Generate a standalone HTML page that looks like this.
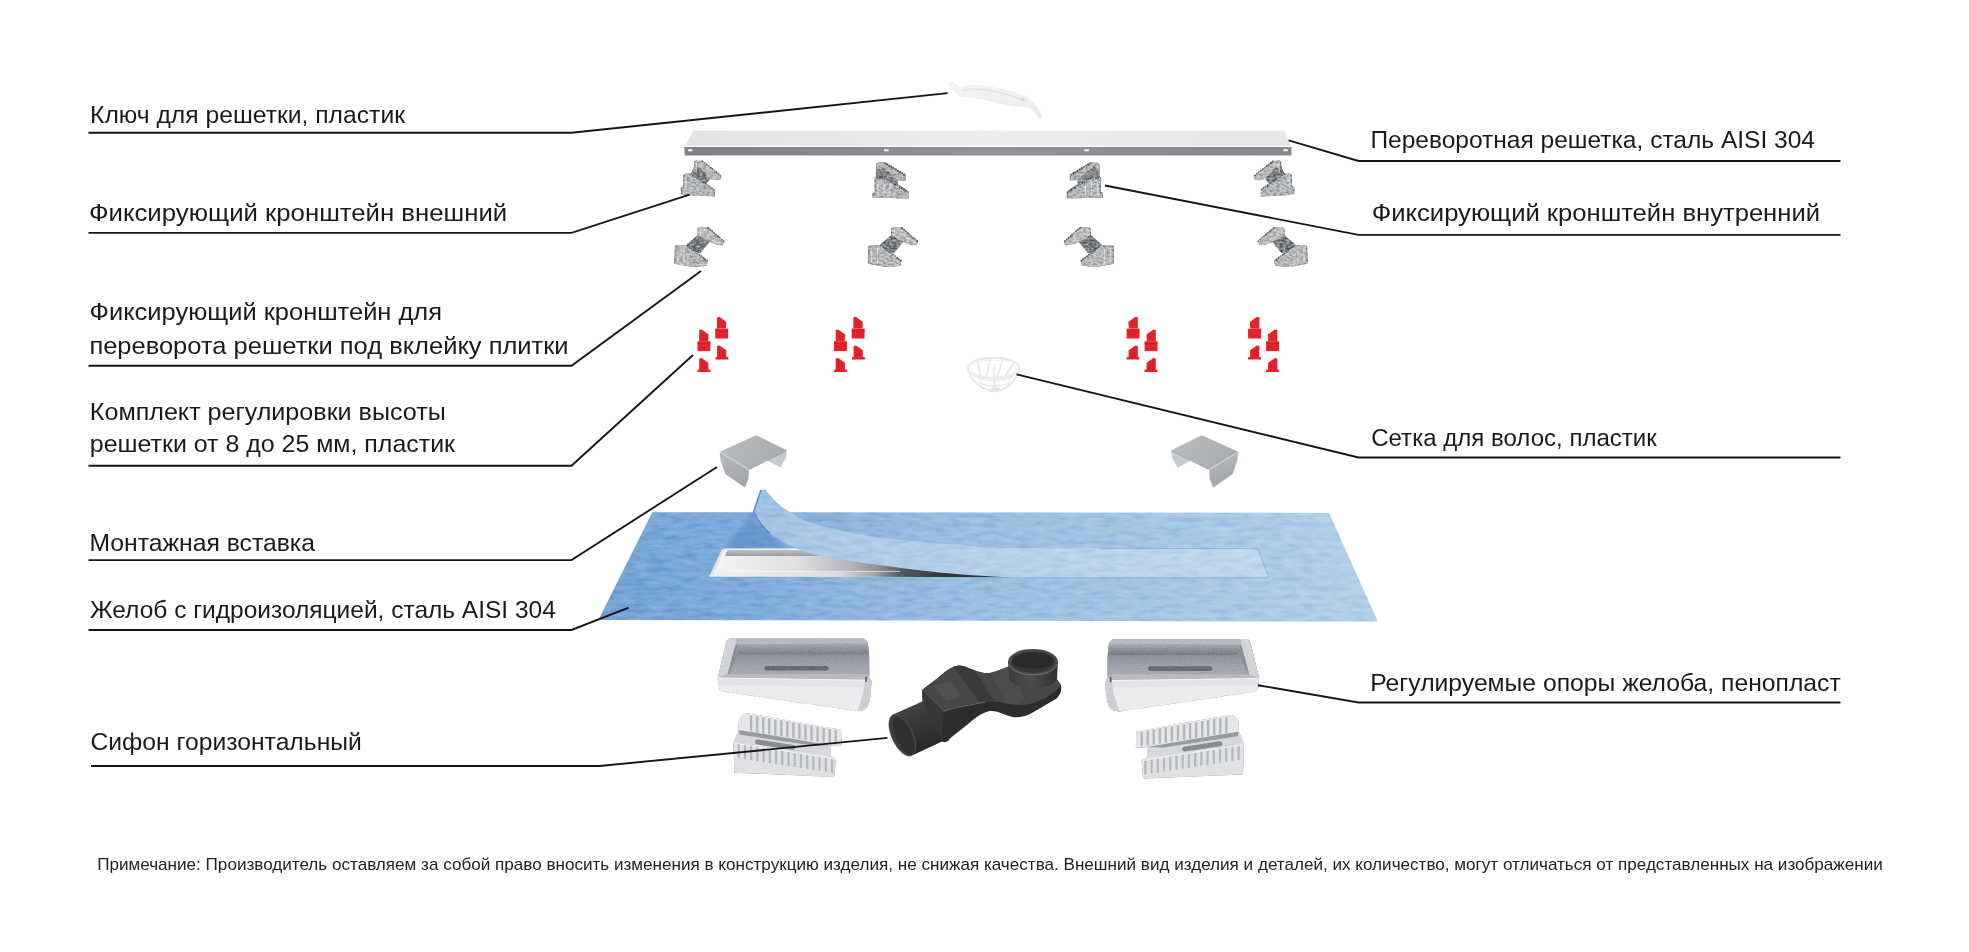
<!DOCTYPE html>
<html lang="ru"><head><meta charset="utf-8"><title>Схема</title>
<style>html,body{margin:0;padding:0;background:#fff;}body{width:1969px;height:952px;overflow:hidden;font-family:"Liberation Sans",sans-serif;}svg{display:block;will-change:transform;}text{font-family:"Liberation Sans",sans-serif;fill:#1a1a1a;}.lbl{font-size:24.4px;}.note{font-size:16.4px;fill:#222;}.ln{fill:none;stroke:#161616;stroke-width:1.9;stroke-linejoin:miter;stroke-linecap:butt;}</style></head><body>
<svg width="1969" height="952" viewBox="0 0 1969 952">
<defs>
<linearGradient id="gMetal" x1="0" y1="0" x2="1" y2="1"><stop offset="0" stop-color="#c4c6c8"/><stop offset="0.5" stop-color="#a3a6a9"/><stop offset="1" stop-color="#b5b8ba"/></linearGradient>
<linearGradient id="gGrateTop" x1="0" y1="0" x2="1" y2="0"><stop offset="0" stop-color="#e3e4e6"/><stop offset="0.5" stop-color="#ecedee"/><stop offset="1" stop-color="#e6e7e9"/></linearGradient>
<linearGradient id="gGrateFront" x1="0" y1="0" x2="1" y2="0"><stop offset="0" stop-color="#7f8387"/><stop offset="0.5" stop-color="#8e9296"/><stop offset="1" stop-color="#85898d"/></linearGradient>
<linearGradient id="gKey" x1="0" y1="0" x2="0" y2="1"><stop offset="0" stop-color="#f4f5f6"/><stop offset="1" stop-color="#e6e8eb"/></linearGradient>
<linearGradient id="gInsTop" x1="0" y1="0" x2="1" y2="0.4"><stop offset="0" stop-color="#b9bcc1"/><stop offset="1" stop-color="#a9acb1"/></linearGradient>
<linearGradient id="gInsSide" x1="0" y1="0" x2="0.3" y2="1"><stop offset="0" stop-color="#b8bbc0"/><stop offset="1" stop-color="#a2a5aa"/></linearGradient>
<linearGradient id="gMem" gradientUnits="userSpaceOnUse" x1="600" y1="0" x2="1380" y2="0"><stop offset="0" stop-color="#74a2d5"/><stop offset="0.2" stop-color="#7facda"/><stop offset="0.35" stop-color="#93b8de"/><stop offset="0.62" stop-color="#a0c3e4"/><stop offset="1" stop-color="#b2cfe7"/></linearGradient>
<linearGradient id="gFlap" gradientUnits="userSpaceOnUse" x1="753" y1="0" x2="1268" y2="0"><stop offset="0" stop-color="#9fc0e3"/><stop offset="0.12" stop-color="#abc9e7"/><stop offset="0.5" stop-color="#b7d0ea"/><stop offset="1" stop-color="#c0d6ec"/></linearGradient>
<linearGradient id="gTray" x1="0" y1="0" x2="0" y2="1"><stop offset="0" stop-color="#cfd1d4"/><stop offset="0.45" stop-color="#e9eaec"/><stop offset="1" stop-color="#f4f4f5"/></linearGradient>
<linearGradient id="gBody" x1="0" y1="0" x2="0" y2="1"><stop offset="0" stop-color="#4a4a4a"/><stop offset="1" stop-color="#2b2b2b"/></linearGradient>
<linearGradient id="gCyl" x1="0" y1="0" x2="1" y2="0"><stop offset="0" stop-color="#3a3a3a"/><stop offset="0.45" stop-color="#4d4d4d"/><stop offset="1" stop-color="#303030"/></linearGradient>
<linearGradient id="gPipe" x1="0" y1="0" x2="0.3" y2="1"><stop offset="0" stop-color="#474747"/><stop offset="0.6" stop-color="#353535"/><stop offset="1" stop-color="#262626"/></linearGradient>
<filter id="fMetal" x="-5%" y="-5%" width="110%" height="110%" color-interpolation-filters="sRGB"><feTurbulence type="fractalNoise" baseFrequency="0.3 0.5" numOctaves="2" seed="3" result="n"/><feColorMatrix in="n" type="matrix" values="1.5 0 0 0 -0.25  1.5 0 0 0 -0.25  1.5 0 0 0 -0.25  0 0 0 0 1" result="g"/><feComposite in="g" in2="SourceGraphic" operator="in" result="b"/><feBlend in="b" in2="SourceGraphic" mode="soft-light"/></filter>
<filter id="fCloth" x="0" y="0" width="100%" height="100%" color-interpolation-filters="sRGB"><feTurbulence type="fractalNoise" baseFrequency="0.06 0.22" numOctaves="4" seed="7" result="n"/><feColorMatrix in="n" type="matrix" values="0.42 0 0 0 0.29  0.42 0 0 0 0.29  0.42 0 0 0 0.29  0 0 0 0 1" result="g"/><feComposite in="g" in2="SourceGraphic" operator="in" result="b"/><feBlend in="b" in2="SourceGraphic" mode="soft-light"/></filter>
<filter id="fFoam" x="-2%" y="-2%" width="104%" height="104%" color-interpolation-filters="sRGB"><feTurbulence type="fractalNoise" baseFrequency="0.7" numOctaves="1" seed="11" result="n"/><feColorMatrix in="n" type="matrix" values="0.3 0 0 0 0.35  0.3 0 0 0 0.35  0.3 0 0 0 0.35  0 0 0 0 1" result="g"/><feComposite in="g" in2="SourceGraphic" operator="in" result="b"/><feBlend in="b" in2="SourceGraphic" mode="soft-light"/></filter>
<filter id="fBlur2" x="-20%" y="-20%" width="140%" height="140%"><feGaussianBlur stdDeviation="2.2"/></filter>
<filter id="fSoft" x="-10%" y="-10%" width="120%" height="120%"><feGaussianBlur stdDeviation="0.45"/></filter>
<linearGradient id="gFloor" gradientUnits="userSpaceOnUse" x1="722" y1="0" x2="1026" y2="0"><stop offset="0" stop-color="#f3f3f4"/><stop offset="0.25" stop-color="#dedfe1"/><stop offset="0.42" stop-color="#b4b6b9"/><stop offset="0.52" stop-color="#8a8c91"/><stop offset="0.6" stop-color="#55575d"/><stop offset="0.75" stop-color="#32343c"/><stop offset="1" stop-color="#2a2c36"/></linearGradient>
<linearGradient id="gRimF" gradientUnits="userSpaceOnUse" x1="722" y1="0" x2="1026" y2="0"><stop offset="0" stop-color="#eeeff0"/><stop offset="0.38" stop-color="#dcdddf"/><stop offset="0.5" stop-color="#a4a6aa"/><stop offset="0.58" stop-color="#5a5c62"/><stop offset="0.72" stop-color="#33353d"/><stop offset="1" stop-color="#2a2c36"/></linearGradient>
<linearGradient id="gBackW" x1="0" y1="0" x2="0" y2="1"><stop offset="0" stop-color="#bcbec1"/><stop offset="1" stop-color="#9c9ea2"/></linearGradient>
</defs>
<polygon points="693.5,130.5 1284.0,130.5 1291.5,146.6 684.3,146.6" fill="url(#gGrateTop)" />
<polygon points="684.3,146.6 1291.5,146.6 1291.5,155.4 684.8,155.4" fill="url(#gGrateFront)" />
<path d="M684.3,146.3 H1291.5" stroke="#fbfbfb" stroke-width="1.3" fill="none"/>
<rect x="687.9" y="149.3" width="4.6" height="2" rx="0.6" fill="#f6f6f7"/>
<rect x="884.0" y="149.3" width="4.6" height="2" rx="0.6" fill="#f6f6f7"/>
<rect x="1084.3" y="149.3" width="4.6" height="2" rx="0.6" fill="#f6f6f7"/>
<rect x="1283.4" y="149.3" width="4.6" height="2" rx="0.6" fill="#f6f6f7"/>
<path d="M949.5,83.4 C950.3,81.4 952.2,81.2 953.4,82.4 L960.8,88.5 C965,86 970,85.2 975.3,85.4 C983,85.8 990,87 996.7,88.3 C1006,90.2 1015,92.6 1022,95.2 C1026,96.8 1029,98.6 1031.4,100.9 C1034.6,103.8 1037,106.5 1038.4,109.1 C1040,112 1041,114.5 1041.2,116 C1041.2,117.6 1040.2,118.6 1039.3,118.5 C1037.8,116 1036.5,114.6 1034.6,112.9 C1032.8,110.6 1030.8,108.6 1028.3,107.2 C1022.5,106.6 1016,106.2 1009.4,105.3 C1003,104.2 996.7,102.6 990.4,100.9 C984,99.4 977.8,98 971.5,97.1 C968,96.8 964.4,96.9 960.8,96.5 C956.8,93.6 952.8,89.6 950.1,86.4 Z" fill="url(#gKey)" stroke="#e6e8eb" stroke-width="0.5" filter="url(#fSoft)"/>
<path d="M962,90.5 C972,88 985,89 998,92 C1008,94.3 1018,97.2 1026,101.5" fill="none" stroke="#dcdee3" stroke-width="1.1"/>
<ellipse cx="1022.6" cy="99.6" rx="2.2" ry="1.1" fill="#cfd2d8" transform="rotate(18 1022.6 99.6)"/>
<g filter="url(#fMetal)"><polygon points="694.5,161.4 696.0,160.6 702.1,160.8 721.4,176.0 720.7,179.6 716.0,180.2 710.5,178.9 704.0,178.0 698.0,176.0 694.2,172.0" fill="#b9bbbd" /><polygon points="694.4,166.0 700.5,168.0 710.2,178.8 704.5,185.4 690.5,173.8 691.6,172.4" fill="#808386" /><polygon points="683.9,174.5 685.4,173.6 690.3,173.6 714.5,189.6 714.6,196.4 695.2,195.6 690.0,195.2 681.6,194.2 680.9,187.8 683.6,186.4" fill="#b4b7b9" /><polyline points="696.4,163.0 696.2,172.0" fill="none" stroke="#d9dbdc" stroke-width="1.1"/><polyline points="686.0,176.4 686.0,190.0" fill="none" stroke="#d9dbdc" stroke-width="1.1"/><polyline points="702.1,161.0 721.2,176.2" fill="none" stroke="#5f6264" stroke-width="1.5" stroke-dasharray="1.6 0.9"/><polyline points="690.3,173.8 714.4,189.8" fill="none" stroke="#5f6264" stroke-width="1.5" stroke-dasharray="1.6 0.9"/><polyline points="694.6,161.6 694.3,171.8" fill="none" stroke="#8a8d90" stroke-width="0.9"/><polyline points="684.0,174.8 683.8,186.4 681.2,188.0 681.8,194.0" fill="none" stroke="#8a8d90" stroke-width="0.9"/></g>
<g filter="url(#fMetal)"><polygon points="1280.8,161.4 1279.3,160.6 1273.2,160.8 1253.9,176.0 1254.6,179.6 1259.3,180.2 1264.8,178.9 1271.3,178.0 1277.3,176.0 1281.1,172.0" fill="#b9bbbd" /><polygon points="1280.9,166.0 1274.8,168.0 1265.1,178.8 1270.8,185.4 1284.8,173.8 1283.7,172.4" fill="#808386" /><polygon points="1291.4,174.5 1289.9,173.6 1285.0,173.6 1260.8,189.6 1260.7,196.4 1280.1,195.6 1285.3,195.2 1293.7,194.2 1294.4,187.8 1291.7,186.4" fill="#b4b7b9" /><polyline points="1278.9,163.0 1279.1,172.0" fill="none" stroke="#d9dbdc" stroke-width="1.1"/><polyline points="1289.3,176.4 1289.3,190.0" fill="none" stroke="#d9dbdc" stroke-width="1.1"/><polyline points="1273.2,161.0 1254.1,176.2" fill="none" stroke="#5f6264" stroke-width="1.5" stroke-dasharray="1.6 0.9"/><polyline points="1285.0,173.8 1260.9,189.8" fill="none" stroke="#5f6264" stroke-width="1.5" stroke-dasharray="1.6 0.9"/><polyline points="1280.7,161.6 1281.0,171.8" fill="none" stroke="#8a8d90" stroke-width="0.9"/><polyline points="1291.3,174.8 1291.5,186.4 1294.1,188.0 1293.5,194.0" fill="none" stroke="#8a8d90" stroke-width="0.9"/></g>
<g filter="url(#fMetal)"><polygon points="876.4,163.8 878.0,162.8 884.3,162.2 905.0,174.6 905.2,180.4 898.1,180.2 897.6,184.1 908.0,191.3 908.2,198.4 872.9,197.6 872.8,193.0 875.3,192.4 874.9,177.4 876.3,176.4" fill="#b3b5b7" /><polygon points="876.6,170.0 882.0,166.6 897.8,180.0 897.4,184.4 886.2,178.2 876.4,178.0" fill="#85888b" /><polyline points="878.0,181.0 878.0,196.0" fill="none" stroke="#d9dbdc" stroke-width="1.1"/><polyline points="884.0,182.0 884.0,196.4" fill="none" stroke="#d9dbdc" stroke-width="1.1"/><polyline points="890.0,184.6 890.0,196.6" fill="none" stroke="#d9dbdc" stroke-width="1.1"/><polyline points="884.3,162.8 905.0,175.2" fill="none" stroke="#5f6264" stroke-width="2.0" stroke-dasharray="1.6 0.9"/><polyline points="886.2,178.6 908.0,192.0" fill="none" stroke="#5f6264" stroke-width="2.0" stroke-dasharray="1.6 0.9"/><polyline points="876.4,178.0 886.4,178.4" fill="none" stroke="#5f6264" stroke-width="2.0" stroke-dasharray="1.6 0.9"/><polyline points="876.5,164.0 876.3,176.4 875.0,177.6 875.3,192.4 873.0,193.0 873.0,197.4" fill="none" stroke="#8a8d90" stroke-width="0.9"/><polyline points="905.0,175.0 905.1,180.2" fill="none" stroke="#8a8d90" stroke-width="0.9"/><polyline points="908.0,192.0 908.1,198.2" fill="none" stroke="#8a8d90" stroke-width="0.9"/></g>
<g filter="url(#fMetal)"><polygon points="1099.0,163.8 1097.4,162.8 1091.1,162.2 1070.4,174.6 1070.2,180.4 1077.3,180.2 1077.8,184.1 1067.4,191.3 1067.2,198.4 1102.5,197.6 1102.6,193.0 1100.1,192.4 1100.5,177.4 1099.1,176.4" fill="#b3b5b7" /><polygon points="1098.8,170.0 1093.4,166.6 1077.6,180.0 1078.0,184.4 1089.2,178.2 1099.0,178.0" fill="#85888b" /><polyline points="1097.4,181.0 1097.4,196.0" fill="none" stroke="#d9dbdc" stroke-width="1.1"/><polyline points="1091.4,182.0 1091.4,196.4" fill="none" stroke="#d9dbdc" stroke-width="1.1"/><polyline points="1085.4,184.6 1085.4,196.6" fill="none" stroke="#d9dbdc" stroke-width="1.1"/><polyline points="1091.1,162.8 1070.4,175.2" fill="none" stroke="#5f6264" stroke-width="2.0" stroke-dasharray="1.6 0.9"/><polyline points="1089.2,178.6 1067.4,192.0" fill="none" stroke="#5f6264" stroke-width="2.0" stroke-dasharray="1.6 0.9"/><polyline points="1099.0,178.0 1089.0,178.4" fill="none" stroke="#5f6264" stroke-width="2.0" stroke-dasharray="1.6 0.9"/><polyline points="1098.9,164.0 1099.1,176.4 1100.4,177.6 1100.1,192.4 1102.4,193.0 1102.4,197.4" fill="none" stroke="#8a8d90" stroke-width="0.9"/><polyline points="1070.4,175.0 1070.3,180.2" fill="none" stroke="#8a8d90" stroke-width="0.9"/><polyline points="1067.4,192.0 1067.3,198.2" fill="none" stroke="#8a8d90" stroke-width="0.9"/></g>
<g filter="url(#fMetal)"><polygon points="697.9,228.0 699.6,227.2 707.8,227.3 724.7,241.8 722.5,245.3 717.0,244.8 713.1,243.2 705.0,240.4 697.9,235.2" fill="#bbbdbf" /><polygon points="686.8,244.4 697.9,235.0 705.0,239.8 710.0,241.2 700.2,253.2 694.6,251.4" fill="#7c7f82" /><polygon points="675.3,245.8 677.0,245.0 686.8,245.0 707.8,260.8 706.8,265.8 700.0,266.6 691.0,266.8 674.7,263.7" fill="#b5b8ba" /><polyline points="700.4,229.4 700.4,236.0" fill="none" stroke="#d9dbdc" stroke-width="1.1"/><polyline points="678.0,248.0 678.0,262.6" fill="none" stroke="#d9dbdc" stroke-width="1.1"/><polyline points="684.0,248.6 684.0,263.8" fill="none" stroke="#d9dbdc" stroke-width="1.1"/><polyline points="707.8,227.6 724.5,242.0" fill="none" stroke="#5f6264" stroke-width="1.5" stroke-dasharray="1.6 0.9"/><polyline points="686.8,245.2 707.6,261.0" fill="none" stroke="#5f6264" stroke-width="1.5" stroke-dasharray="1.6 0.9"/><polyline points="698.0,228.2 698.0,235.0" fill="none" stroke="#8a8d90" stroke-width="0.9"/><polyline points="675.4,246.0 674.9,263.4" fill="none" stroke="#8a8d90" stroke-width="0.9"/></g>
<g filter="url(#fMetal)"><polygon points="891.5,228.0 893.2,227.2 901.4,227.3 918.3,241.8 916.1,245.3 910.6,244.8 906.7,243.2 898.6,240.4 891.5,235.2" fill="#bbbdbf" /><polygon points="880.4,244.4 891.5,235.0 898.6,239.8 903.6,241.2 893.8,253.2 888.2,251.4" fill="#7c7f82" /><polygon points="868.9,245.8 870.6,245.0 880.4,245.0 901.4,260.8 900.4,265.8 893.6,266.6 884.6,266.8 868.3,263.7" fill="#b5b8ba" /><polyline points="894.0,229.4 894.0,236.0" fill="none" stroke="#d9dbdc" stroke-width="1.1"/><polyline points="871.6,248.0 871.6,262.6" fill="none" stroke="#d9dbdc" stroke-width="1.1"/><polyline points="877.6,248.6 877.6,263.8" fill="none" stroke="#d9dbdc" stroke-width="1.1"/><polyline points="901.4,227.6 918.1,242.0" fill="none" stroke="#5f6264" stroke-width="1.5" stroke-dasharray="1.6 0.9"/><polyline points="880.4,245.2 901.2,261.0" fill="none" stroke="#5f6264" stroke-width="1.5" stroke-dasharray="1.6 0.9"/><polyline points="891.6,228.2 891.6,235.0" fill="none" stroke="#8a8d90" stroke-width="0.9"/><polyline points="869.0,246.0 868.5,263.4" fill="none" stroke="#8a8d90" stroke-width="0.9"/></g>
<g filter="url(#fMetal)"><polygon points="1284.1,228.0 1282.4,227.2 1274.2,227.3 1257.3,241.8 1259.5,245.3 1265.0,244.8 1268.9,243.2 1277.0,240.4 1284.1,235.2" fill="#bbbdbf" /><polygon points="1295.2,244.4 1284.1,235.0 1277.0,239.8 1272.0,241.2 1281.8,253.2 1287.4,251.4" fill="#7c7f82" /><polygon points="1306.7,245.8 1305.0,245.0 1295.2,245.0 1274.2,260.8 1275.2,265.8 1282.0,266.6 1291.0,266.8 1307.3,263.7" fill="#b5b8ba" /><polyline points="1281.6,229.4 1281.6,236.0" fill="none" stroke="#d9dbdc" stroke-width="1.1"/><polyline points="1304.0,248.0 1304.0,262.6" fill="none" stroke="#d9dbdc" stroke-width="1.1"/><polyline points="1298.0,248.6 1298.0,263.8" fill="none" stroke="#d9dbdc" stroke-width="1.1"/><polyline points="1274.2,227.6 1257.5,242.0" fill="none" stroke="#5f6264" stroke-width="1.5" stroke-dasharray="1.6 0.9"/><polyline points="1295.2,245.2 1274.4,261.0" fill="none" stroke="#5f6264" stroke-width="1.5" stroke-dasharray="1.6 0.9"/><polyline points="1284.0,228.2 1284.0,235.0" fill="none" stroke="#8a8d90" stroke-width="0.9"/><polyline points="1306.6,246.0 1307.1,263.4" fill="none" stroke="#8a8d90" stroke-width="0.9"/></g>
<g filter="url(#fMetal)"><polygon points="1090.5,228.0 1088.8,227.2 1080.6,227.3 1063.7,241.8 1065.9,245.3 1071.4,244.8 1075.3,243.2 1083.4,240.4 1090.5,235.2" fill="#bbbdbf" /><polygon points="1101.6,244.4 1090.5,235.0 1083.4,239.8 1078.4,241.2 1088.2,253.2 1093.8,251.4" fill="#7c7f82" /><polygon points="1113.1,245.8 1111.4,245.0 1101.6,245.0 1080.6,260.8 1081.6,265.8 1088.4,266.6 1097.4,266.8 1113.7,263.7" fill="#b5b8ba" /><polyline points="1088.0,229.4 1088.0,236.0" fill="none" stroke="#d9dbdc" stroke-width="1.1"/><polyline points="1110.4,248.0 1110.4,262.6" fill="none" stroke="#d9dbdc" stroke-width="1.1"/><polyline points="1104.4,248.6 1104.4,263.8" fill="none" stroke="#d9dbdc" stroke-width="1.1"/><polyline points="1080.6,227.6 1063.9,242.0" fill="none" stroke="#5f6264" stroke-width="1.5" stroke-dasharray="1.6 0.9"/><polyline points="1101.6,245.2 1080.8,261.0" fill="none" stroke="#5f6264" stroke-width="1.5" stroke-dasharray="1.6 0.9"/><polyline points="1090.4,228.2 1090.4,235.0" fill="none" stroke="#8a8d90" stroke-width="0.9"/><polyline points="1113.0,246.0 1113.5,263.4" fill="none" stroke="#8a8d90" stroke-width="0.9"/></g>
<polygon points="716.9,317.3 719.3,316.8 726.3,321.9 725.9,328.6 716.9,328.6" fill="#e2232b" /><polygon points="715.2,328.6 728.1,328.6 728.1,338.5 715.2,338.5" fill="#e2232b" /><path d="M715.2,331.0 H728.1" stroke="#c91d25" stroke-width="0.9" fill="none"/>
<polygon points="699.2,329.9 701.6,329.4 708.6,334.5 708.2,341.2 699.2,341.2" fill="#e2232b" /><polygon points="697.5,341.2 710.4,341.2 710.4,351.1 697.5,351.1" fill="#e2232b" /><path d="M697.5,343.6 H710.4" stroke="#c91d25" stroke-width="0.9" fill="none"/>
<polygon points="717.1,346.1 719.5,345.6 726.3,350.3 726.3,356.9 728.4,357.2 728.4,359.6 715.5,359.6 715.5,357.2 717.1,356.9" fill="#e2232b" /><path d="M720.1,348.9 V357.1" stroke="#c91d25" stroke-width="0.7" fill="none"/><path d="M723.1,350.7 V357.1" stroke="#c91d25" stroke-width="0.7" fill="none"/>
<polygon points="699.2,358.6 701.6,358.1 708.4,362.8 708.4,369.4 710.5,369.7 710.5,372.1 697.6,372.1 697.6,369.7 699.2,369.4" fill="#e2232b" /><path d="M702.2,361.4 V369.6" stroke="#c91d25" stroke-width="0.7" fill="none"/><path d="M705.2,363.2 V369.6" stroke="#c91d25" stroke-width="0.7" fill="none"/>
<polygon points="853.4,317.3 855.8,316.8 862.8,321.9 862.4,328.6 853.4,328.6" fill="#e2232b" /><polygon points="851.7,328.6 864.6,328.6 864.6,338.5 851.7,338.5" fill="#e2232b" /><path d="M851.7,331.0 H864.6" stroke="#c91d25" stroke-width="0.9" fill="none"/>
<polygon points="835.7,329.9 838.1,329.4 845.1,334.5 844.7,341.2 835.7,341.2" fill="#e2232b" /><polygon points="834.0,341.2 846.9,341.2 846.9,351.1 834.0,351.1" fill="#e2232b" /><path d="M834.0,343.6 H846.9" stroke="#c91d25" stroke-width="0.9" fill="none"/>
<polygon points="853.6,346.1 856.0,345.6 862.8,350.3 862.8,356.9 864.9,357.2 864.9,359.6 852.0,359.6 852.0,357.2 853.6,356.9" fill="#e2232b" /><path d="M856.6,348.9 V357.1" stroke="#c91d25" stroke-width="0.7" fill="none"/><path d="M859.6,350.7 V357.1" stroke="#c91d25" stroke-width="0.7" fill="none"/>
<polygon points="835.7,358.6 838.1,358.1 844.9,362.8 844.9,369.4 847.0,369.7 847.0,372.1 834.1,372.1 834.1,369.7 835.7,369.4" fill="#e2232b" /><path d="M838.7,361.4 V369.6" stroke="#c91d25" stroke-width="0.7" fill="none"/><path d="M841.7,363.2 V369.6" stroke="#c91d25" stroke-width="0.7" fill="none"/>
<polygon points="1137.8,317.3 1135.4,316.8 1128.4,321.9 1128.8,328.6 1137.8,328.6" fill="#e2232b" /><polygon points="1139.5,328.6 1126.6,328.6 1126.6,338.5 1139.5,338.5" fill="#e2232b" /><path d="M1139.5,331.0 H1126.6" stroke="#c91d25" stroke-width="0.9" fill="none"/>
<polygon points="1155.8,329.9 1153.4,329.4 1146.4,334.5 1146.8,341.2 1155.8,341.2" fill="#e2232b" /><polygon points="1157.5,341.2 1144.6,341.2 1144.6,351.1 1157.5,351.1" fill="#e2232b" /><path d="M1157.5,343.6 H1144.6" stroke="#c91d25" stroke-width="0.9" fill="none"/>
<polygon points="1137.8,346.1 1135.4,345.6 1128.6,350.3 1128.6,356.9 1126.5,357.2 1126.5,359.6 1139.4,359.6 1139.4,357.2 1137.8,356.9" fill="#e2232b" /><path d="M1134.8,348.9 V357.1" stroke="#c91d25" stroke-width="0.7" fill="none"/><path d="M1131.8,350.7 V357.1" stroke="#c91d25" stroke-width="0.7" fill="none"/>
<polygon points="1155.8,358.6 1153.4,358.1 1146.6,362.8 1146.6,369.4 1144.5,369.7 1144.5,372.1 1157.4,372.1 1157.4,369.7 1155.8,369.4" fill="#e2232b" /><path d="M1152.8,361.4 V369.6" stroke="#c91d25" stroke-width="0.7" fill="none"/><path d="M1149.8,363.2 V369.6" stroke="#c91d25" stroke-width="0.7" fill="none"/>
<polygon points="1259.3,317.3 1256.9,316.8 1249.9,321.9 1250.3,328.6 1259.3,328.6" fill="#e2232b" /><polygon points="1261.0,328.6 1248.1,328.6 1248.1,338.5 1261.0,338.5" fill="#e2232b" /><path d="M1261.0,331.0 H1248.1" stroke="#c91d25" stroke-width="0.9" fill="none"/>
<polygon points="1277.3,329.9 1274.9,329.4 1267.9,334.5 1268.3,341.2 1277.3,341.2" fill="#e2232b" /><polygon points="1279.0,341.2 1266.1,341.2 1266.1,351.1 1279.0,351.1" fill="#e2232b" /><path d="M1279.0,343.6 H1266.1" stroke="#c91d25" stroke-width="0.9" fill="none"/>
<polygon points="1259.3,346.1 1256.9,345.6 1250.1,350.3 1250.1,356.9 1248.0,357.2 1248.0,359.6 1260.9,359.6 1260.9,357.2 1259.3,356.9" fill="#e2232b" /><path d="M1256.3,348.9 V357.1" stroke="#c91d25" stroke-width="0.7" fill="none"/><path d="M1253.3,350.7 V357.1" stroke="#c91d25" stroke-width="0.7" fill="none"/>
<polygon points="1277.3,358.6 1274.9,358.1 1268.1,362.8 1268.1,369.4 1266.0,369.7 1266.0,372.1 1278.9,372.1 1278.9,369.7 1277.3,369.4" fill="#e2232b" /><path d="M1274.3,361.4 V369.6" stroke="#c91d25" stroke-width="0.7" fill="none"/><path d="M1271.3,363.2 V369.6" stroke="#c91d25" stroke-width="0.7" fill="none"/>
<g fill="none" stroke="#e7e9ed" stroke-linecap="round" filter="url(#fSoft)">
<ellipse cx="993.7" cy="368.2" rx="25.6" ry="10.4" stroke-width="2.2"/>
<ellipse cx="993.7" cy="368.6" rx="22.6" ry="8.4" stroke-width="1.0" stroke="#eceef1"/>
<path d="M968.6,370 C971,381 981,389.5 994.5,391.6 C1007,389.5 1016.5,381 1018.8,370" stroke-width="2.0"/>
<path d="M973,374 C981,383 1006,383 1015,374" stroke-width="1.5"/>
<path d="M979,382 C985,387 1004,387 1010,382" stroke-width="1.3"/>
<path d="M978.0,361.5 L980.5,377.0" stroke-width="1.8"/>
<path d="M990.0,359.2 L986.0,378.0" stroke-width="1.8"/>
<path d="M1003.0,359.6 L996.0,380.0" stroke-width="1.8"/>
<path d="M1013.0,364.0 L1004.0,378.0" stroke-width="1.8"/>
<path d="M994.0,367.0 L994.5,388.0" stroke-width="1.8"/>
</g>
<ellipse cx="995.4" cy="389.4" rx="4.6" ry="2.4" fill="#e3e5e9"/>
<polygon points="786.7,450.2 785.9,458.1 780.4,467.6 767.8,460.9 768.4,459.6" fill="#c6c9cd" />
<polygon points="719.7,451.8 756.3,435.2 786.7,450.2 748.9,469.5" fill="url(#gInsTop)" />
<polygon points="719.7,451.8 748.9,469.5 748.5,478.6 744.9,487.6 725.2,473.9 720.5,459.7" fill="url(#gInsSide)" />
<polyline points="719.9,452.0 748.9,469.6" fill="none" stroke="#d3d5d9" stroke-width="1.1"/>
<polyline points="749.4,469.4 786.5,450.6" fill="none" stroke="#8f9297" stroke-width="0.8"/>
<polygon points="1171.3,450.2 1172.1,458.1 1177.6,467.6 1190.2,460.9 1189.6,459.6" fill="#c6c9cd" />
<polygon points="1238.3,451.8 1201.7,435.2 1171.3,450.2 1209.1,469.5" fill="url(#gInsTop)" />
<polygon points="1238.3,451.8 1209.1,469.5 1209.5,478.6 1213.1,487.6 1232.8,473.9 1237.5,459.7" fill="url(#gInsSide)" />
<polyline points="1238.1,452.0 1209.1,469.6" fill="none" stroke="#d3d5d9" stroke-width="1.1"/>
<polyline points="1208.6,469.4 1171.5,450.6" fill="none" stroke="#8f9297" stroke-width="0.8"/>
<clipPath id="cMem"><polygon points="652.3,512.2 1329.1,512.9 1377.8,621.6 598.4,620.0"/></clipPath>
<g clip-path="url(#cMem)"><rect x="590" y="505" width="796" height="124" fill="url(#gMem)" filter="url(#fCloth)"/></g>
<path d="M752,513 C758,526 770,538 790,548.4 L724,548.4 C730,540 742,528 752,513 Z" fill="#4d7cc0" opacity="0.45" filter="url(#fBlur2)"/>
<path d="M725.4,548.4 H1030 V577.4 L709.2,576.4 L721.6,550 Q722.4,548.4 725.4,548.4 Z" fill="#e4e5e7"/>
<polygon points="727.2,550.0 1030.0,550.2 1030.0,556.2 724.6,556.0" fill="url(#gBackW)" />
<polygon points="724.6,556.0 1030.0,556.2 1030.0,572.2 717.4,571.6" fill="url(#gFloor)" />
<polygon points="727.2,550.0 724.6,556.0 717.4,571.6 713.4,574.4 724.0,550.2" fill="#f4f4f5" />
<polygon points="717.4,571.6 1030.0,572.2 1030.0,577.4 709.2,576.4 713.4,574.2" fill="url(#gRimF)" />
<path d="M726,549.3 H830" fill="none" stroke="#f6f6f7" stroke-width="1.0"/>
<path d="M724.8,556.2 L717.6,571.4 H900" fill="none" stroke="#fafafa" stroke-width="0.8" opacity="0.8"/>
<clipPath id="cFlap"><path d="M760.9,490 L765.5,489.4 C772,498 776,501.6 779.2,504.4 C788,511.6 797,516.6 806.7,521.1 C822,526.4 838,530.2 852.4,533.3 C873,536.8 893,539.2 913.3,541 C942,543.4 972,546.4 1001.6,548.2 L1254.8,548.6 Q1257.8,548.6 1258.6,551 L1267.6,574.6 Q1268.6,577.6 1265.6,577.6 L1022.8,577.7 C1012,577.5 1006,577.3 1002.5,577 C988,576.3 975,575.5 961.9,574.5 C948,573.2 935,571.9 921.3,570.4 C908,568.8 894,567.1 880.6,565.3 C867,563.4 856,561.9 845.8,560.5 C837,559.2 829,557.9 820.6,556.3 C812,554.4 804,551.8 797.1,548.7 C790,545.4 784,542.6 778.6,539.5 C771,534.8 766,530.4 761.8,525.2 C758,520.4 755.6,516 753.6,511.6 Z"/></clipPath>
<g clip-path="url(#cFlap)"><rect x="745" y="482" width="530" height="102" fill="url(#gFlap)" filter="url(#fCloth)"/></g>
<path d="M760.9,490 L753.6,511.6 C755.6,516 758,520.4 761.8,525.2 C764,528 767,531 770,533.4" fill="none" stroke="#5f8cc8" stroke-width="1.5"/>
<path d="M1024,577.9 L1265.6,577.8 Q1268.8,577.8 1267.6,574.6 L1258.6,551 Q1257.8,548.6 1254.8,548.6 L1100,548.4" fill="none" stroke="#6f9bd0" stroke-width="0.7" opacity="0.8"/>
<g filter="url(#fFoam)">
<path d="M 861.4,638.6 L 731.4,638.6 Q 727.6,638.6 726.4,642.2 L 718.3,675.7 Q 717.6,678.4 718.1,681.5 L 719.8,690.7 L 719.8,690.6 L 722.5,691.8 L 725.1,691.4 L 727.8,692.6 L 730.5,692.1 L 733.1,693.3 L 735.8,692.9 L 738.4,694.1 L 741.1,693.7 L 743.8,694.9 L 746.4,694.5 L 749.1,695.7 L 751.8,695.2 L 754.4,696.4 L 757.1,696.0 L 759.7,697.2 L 762.4,696.8 L 765.1,698.0 L 767.7,697.6 L 770.4,698.8 L 773.1,698.4 L 775.7,699.6 L 778.4,699.1 L 781.1,700.3 L 783.7,699.9 L 786.4,701.1 L 789.0,700.7 L 791.7,701.9 L 794.4,701.5 L 797.0,702.7 L 799.7,702.2 L 802.4,703.5 L 805.0,703.0 L 807.7,704.2 L 810.3,703.8 L 813.0,705.0 L 815.7,704.6 L 818.3,705.8 L 821.0,705.4 L 823.7,706.6 L 826.3,706.1 L 829.0,707.3 L 831.7,706.9 L 834.3,708.1 L 837.0,707.7 L 839.6,708.9 L 842.3,708.5 L 845.0,709.7 L 847.6,709.3 L 850.3,710.5 L 853.0,710.0 L 855.6,711.2 L 858.3,710.8 Q 865.1,710.9 867.8,705.9 Q 870.8,699.2 871.2,684.7 L 871.2,680.7 L 869.2,676.8 L 869.1,655.8 L 867.8,644.1 Q 866.9,638.6 861.4,638.6 Z" fill="#ebecee"/>
<path d="M 871.2,680.7 L 865.1,680.0 L 718.1,677.9 L 718.1,681.5 L 718.7,684.7 L 865.1,687.4 L 871.0,688.3 Z" fill="#e3e4e7"/>
<path d="M 871.2,680.7 L 869.2,676.8 L 865.1,680.0 L 863.2,692.8 L 858.7,707.3 L 857.4,710.9 Q 865.1,710.9 867.8,705.9 Q 870.8,699.2 871.2,684.7 Z" fill="#cdcfd3"/>
<path d="M 861.4,638.6 L 731.4,638.6 Q 727.6,638.6 726.4,642.2 L 718.3,675.7 Q 717.6,678.4 718.1,681.5 L 718.1,677.9 L 865.1,680.0 L 869.2,676.8 L 869.1,655.8 L 867.8,644.1 Q 866.9,638.6 861.4,638.6 Z" fill="#b9bbc1"/>
<path d="M 735.3,645.1 L 736.2,638.6 L 731.4,638.6 Q 727.6,638.6 726.4,642.2 L 718.3,675.7 L 718.1,677.9 L 727.7,673.7 Z" fill="#d2d4d8"/>
<linearGradient id="gBWL" x1="0" y1="0" x2="0" y2="1"><stop offset="0" stop-color="#a9acb3"/><stop offset="1" stop-color="#777b85"/></linearGradient>
<path d="M 867.8,643.2 L 737.0,644.2 L 738.4,654.7 L 869.0,654.7 Z" fill="url(#gBWL)"/>
<linearGradient id="gFLL" x1="0" y1="0" x2="0" y2="1"><stop offset="0" stop-color="#8b8f98"/><stop offset="0.35" stop-color="#9b9ea6"/><stop offset="1" stop-color="#a8abb1"/></linearGradient>
<path d="M 869.0,654.7 L 738.4,654.7 L 728.5,673.9 L 865.1,673.9 L 869.2,674.8 Z" fill="url(#gFLL)"/>
<path d="M 737.0,644.2 L 735.3,645.1 L 727.7,673.7 L 728.5,673.9 L 738.4,654.7 Z" fill="#8a8e96"/>
<path d="M 826.4,668.2 L 766.8,668.2" fill="none" stroke="#686c75" stroke-width="4.6" stroke-linecap="round"/>
<path d="M 867.4,676.8 L 865.2,676.8 L 865.2,682.2 L 867.0,681.6 Z" fill="#5c6068"/>
<path d="M 865.1,680.2 L 718.1,678.1" fill="none" stroke="#f4f4f5" stroke-width="1.0"/>
</g>
<g filter="url(#fFoam)">
<path d="M 1115.4,639.0 L 1245.4,639.0 Q 1249.2,639.0 1250.4,642.6 L 1258.5,676.1 Q 1259.2,678.8 1258.7,681.9 L 1257.0,691.1 L 1257.0,691.0 L 1254.3,692.2 L 1251.7,691.8 L 1249.0,693.0 L 1246.3,692.5 L 1243.7,693.7 L 1241.0,693.3 L 1238.4,694.5 L 1235.7,694.1 L 1233.0,695.3 L 1230.4,694.9 L 1227.7,696.1 L 1225.0,695.6 L 1222.4,696.8 L 1219.7,696.4 L 1217.1,697.6 L 1214.4,697.2 L 1211.7,698.4 L 1209.1,698.0 L 1206.4,699.2 L 1203.7,698.8 L 1201.1,700.0 L 1198.4,699.5 L 1195.7,700.7 L 1193.1,700.3 L 1190.4,701.5 L 1187.8,701.1 L 1185.1,702.3 L 1182.4,701.9 L 1179.8,703.1 L 1177.1,702.6 L 1174.4,703.9 L 1171.8,703.4 L 1169.1,704.6 L 1166.5,704.2 L 1163.8,705.4 L 1161.1,705.0 L 1158.5,706.2 L 1155.8,705.8 L 1153.1,707.0 L 1150.5,706.5 L 1147.8,707.7 L 1145.1,707.3 L 1142.5,708.5 L 1139.8,708.1 L 1137.2,709.3 L 1134.5,708.9 L 1131.8,710.1 L 1129.2,709.7 L 1126.5,710.9 L 1123.8,710.4 L 1121.2,711.6 L 1118.5,711.2 Q 1111.7,711.3 1109.0,706.3 Q 1106.0,699.6 1105.6,685.1 L 1105.6,681.1 L 1107.6,677.2 L 1107.7,656.2 L 1109.0,644.5 Q 1109.9,639.0 1115.4,639.0 Z" fill="#ebecee"/>
<path d="M 1105.6,681.1 L 1111.7,680.4 L 1258.7,678.3 L 1258.7,681.9 L 1258.1,685.1 L 1111.7,687.8 L 1105.8,688.7 Z" fill="#e3e4e7"/>
<path d="M 1105.6,681.1 L 1107.6,677.2 L 1111.7,680.4 L 1113.6,693.2 L 1118.1,707.7 L 1119.4,711.3 Q 1111.7,711.3 1109.0,706.3 Q 1106.0,699.6 1105.6,685.1 Z" fill="#cdcfd3"/>
<path d="M 1115.4,639.0 L 1245.4,639.0 Q 1249.2,639.0 1250.4,642.6 L 1258.5,676.1 Q 1259.2,678.8 1258.7,681.9 L 1258.7,678.3 L 1111.7,680.4 L 1107.6,677.2 L 1107.7,656.2 L 1109.0,644.5 Q 1109.9,639.0 1115.4,639.0 Z" fill="#b9bbc1"/>
<path d="M 1241.5,645.5 L 1240.6,639.0 L 1245.4,639.0 Q 1249.2,639.0 1250.4,642.6 L 1258.5,676.1 L 1258.7,678.3 L 1249.1,674.1 Z" fill="#d2d4d8"/>
<linearGradient id="gBWR" x1="0" y1="0" x2="0" y2="1"><stop offset="0" stop-color="#a9acb3"/><stop offset="1" stop-color="#777b85"/></linearGradient>
<path d="M 1109.0,643.6 L 1239.8,644.6 L 1238.4,655.1 L 1107.8,655.1 Z" fill="url(#gBWR)"/>
<linearGradient id="gFLR" x1="0" y1="0" x2="0" y2="1"><stop offset="0" stop-color="#8b8f98"/><stop offset="0.35" stop-color="#9b9ea6"/><stop offset="1" stop-color="#a8abb1"/></linearGradient>
<path d="M 1107.8,655.1 L 1238.4,655.1 L 1248.3,674.3 L 1111.7,674.3 L 1107.6,675.2 Z" fill="url(#gFLR)"/>
<path d="M 1239.8,644.6 L 1241.5,645.5 L 1249.1,674.1 L 1248.3,674.3 L 1238.4,655.1 Z" fill="#8a8e96"/>
<path d="M 1150.4,668.6 L 1210.0,668.6" fill="none" stroke="#686c75" stroke-width="4.6" stroke-linecap="round"/>
<path d="M 1109.4,677.2 L 1111.6,677.2 L 1111.6,682.6 L 1109.8,682.0 Z" fill="#5c6068"/>
<path d="M 1111.7,680.6 L 1258.7,678.5" fill="none" stroke="#f4f4f5" stroke-width="1.0"/>
</g>
<g filter="url(#fFoam)">
<polygon points="741.8,715.9 743.9,713.9 747.7,713.4 841.0,729.8 841.5,745.3 839.3,746.3 830.2,745.2 830.2,755.9 835.9,758.8 834.4,776.4 833.4,776.9 734.4,772.7 733.4,742.8 738.4,730.2 738.9,720.1" fill="#e0e1e4" />
<polygon points="738.9,729.9 830.2,745.2 830.2,755.9 733.4,742.8" fill="#d6d8db" />
<polygon points="738.9,729.9 830.0,745.2 814.1,745.7 739.5,734.6" fill="#989ba1" />
<polygon points="741.8,715.9 743.9,713.9 747.7,713.4 841.0,729.8 841.5,745.3 738.9,729.9 738.9,720.1" fill="#e5e6e9" />
<polygon points="749.9,713.5 752.2,713.9 752.2,715.1 749.9,714.7" fill="#ffffff" />
<polygon points="749.9,714.7 752.2,715.1 752.2,731.8 749.9,731.5" fill="#b3b6bb" />
<polygon points="755.9,714.5 758.3,714.9 758.3,716.2 755.9,715.8" fill="#ffffff" />
<polygon points="755.9,715.8 758.3,716.2 758.3,732.7 755.9,732.5" fill="#b3b6bb" />
<polygon points="762.0,715.6 764.3,716.0 764.3,717.3 762.0,716.8" fill="#ffffff" />
<polygon points="762.0,716.8 764.3,717.3 764.3,733.6 762.0,733.4" fill="#b3b6bb" />
<polygon points="768.0,716.6 770.4,717.1 770.4,718.3 768.0,717.9" fill="#ffffff" />
<polygon points="768.0,717.9 770.4,718.3 770.4,734.5 768.0,734.3" fill="#b3b6bb" />
<polygon points="774.1,717.7 776.4,718.1 776.4,719.4 774.1,719.0" fill="#ffffff" />
<polygon points="774.1,719.0 776.4,719.4 776.4,735.5 774.1,735.2" fill="#b3b6bb" />
<polygon points="780.1,718.8 782.5,719.2 782.5,720.4 780.1,720.0" fill="#ffffff" />
<polygon points="780.1,720.0 782.5,720.4 782.5,736.4 780.1,736.1" fill="#b3b6bb" />
<polygon points="786.2,719.8 788.5,720.2 788.5,721.5 786.2,721.1" fill="#ffffff" />
<polygon points="786.2,721.1 788.5,721.5 788.5,737.3 786.2,737.0" fill="#b3b6bb" />
<polygon points="792.2,720.9 794.6,721.3 794.6,722.6 792.2,722.2" fill="#ffffff" />
<polygon points="792.2,722.2 794.6,722.6 794.6,738.2 792.2,738.0" fill="#b3b6bb" />
<polygon points="798.3,722.0 800.6,722.4 800.6,723.6 798.3,723.2" fill="#ffffff" />
<polygon points="798.3,723.2 800.6,723.6 800.6,739.1 798.3,738.9" fill="#b3b6bb" />
<polygon points="804.3,723.0 806.7,723.4 806.7,724.7 804.3,724.3" fill="#ffffff" />
<polygon points="804.3,724.3 806.7,724.7 806.7,740.1 804.3,739.8" fill="#b3b6bb" />
<polygon points="810.4,724.1 812.7,724.5 812.7,725.8 810.4,725.3" fill="#ffffff" />
<polygon points="810.4,725.3 812.7,725.8 812.7,741.0 810.4,740.7" fill="#b3b6bb" />
<polygon points="816.4,725.1 818.8,725.6 818.8,726.8 816.4,726.4" fill="#ffffff" />
<polygon points="816.4,726.4 818.8,726.8 818.8,741.9 816.4,741.6" fill="#b3b6bb" />
<polygon points="822.5,726.2 824.8,726.6 824.8,727.9 822.5,727.5" fill="#ffffff" />
<polygon points="822.5,727.5 824.8,727.9 824.8,742.8 822.5,742.5" fill="#b3b6bb" />
<polygon points="828.5,727.3 830.9,727.7 830.9,729.0 828.5,728.5" fill="#ffffff" />
<polygon points="828.5,728.5 830.9,729.0 830.9,743.7 828.5,743.5" fill="#b3b6bb" />
<polygon points="834.6,728.3 836.9,728.8 836.9,730.0 834.6,729.6" fill="#ffffff" />
<polygon points="834.6,729.6 836.9,730.0 836.9,744.6 834.6,744.4" fill="#b3b6bb" />
<polygon points="737.6,743.6 739.9,744.0 739.9,758.4 737.6,758.1" fill="#b6b9be" />
<polygon points="743.8,744.6 746.1,744.9 746.1,759.4 743.8,759.1" fill="#b6b9be" />
<polygon points="750.0,745.6 752.3,745.9 752.3,760.4 750.0,760.0" fill="#b6b9be" />
<polygon points="756.3,746.5 758.5,746.9 758.5,761.3 756.3,761.0" fill="#b6b9be" />
<polygon points="762.5,747.5 764.7,747.8 764.7,762.3 762.5,762.0" fill="#b6b9be" />
<polygon points="768.7,748.5 771.0,748.8 771.0,763.3 768.7,762.9" fill="#b6b9be" />
<polygon points="774.9,749.4 777.2,749.8 777.2,764.2 774.9,763.9" fill="#b6b9be" />
<polygon points="781.1,750.4 783.4,750.8 783.4,765.2 781.1,764.9" fill="#b6b9be" />
<polygon points="787.4,751.4 789.6,751.7 789.6,766.2 787.4,765.8" fill="#b6b9be" />
<polygon points="793.6,752.4 795.8,752.7 795.8,767.1 793.6,766.8" fill="#b6b9be" />
<polygon points="799.8,753.3 802.1,753.7 802.1,768.1 799.8,767.8" fill="#b6b9be" />
<polygon points="806.0,754.3 808.3,754.6 808.3,769.1 806.0,768.7" fill="#b6b9be" />
<polygon points="812.2,755.3 814.5,755.6 814.5,770.0 812.2,769.7" fill="#b6b9be" />
<polygon points="818.4,756.2 820.7,756.6 820.7,771.0 818.4,770.7" fill="#b6b9be" />
<polygon points="824.7,757.2 826.9,757.5 826.9,772.0 824.7,771.6" fill="#b6b9be" />
<polygon points="830.9,758.2 833.2,758.5 833.2,773.0 830.9,772.6" fill="#b6b9be" />
<polyline points="733.4,743.0 835.9,758.9" fill="none" stroke="#f2f2f3" stroke-width="1.0"/>
<polyline points="757.6,742.0 792.7,747.4" fill="none" stroke="#868b91" stroke-width="5.0" stroke-linecap="round"/>
</g>
<g filter="url(#fFoam)">
<polygon points="1235.6,717.6 1233.5,715.6 1229.7,715.1 1136.4,731.5 1135.9,747.0 1138.1,748.0 1147.2,746.9 1147.2,757.6 1141.5,760.5 1143.0,778.1 1144.0,778.6 1243.0,774.4 1244.0,744.5 1239.0,731.9 1238.5,721.8" fill="#e0e1e4" />
<polygon points="1238.5,731.6 1147.2,746.9 1147.2,757.6 1244.0,744.5" fill="#d6d8db" />
<polygon points="1238.5,731.6 1147.4,746.9 1163.3,747.4 1237.9,736.3" fill="#989ba1" />
<polygon points="1235.6,717.6 1233.5,715.6 1229.7,715.1 1136.4,731.5 1135.9,747.0 1238.5,731.6 1238.5,721.8" fill="#e5e6e9" />
<polygon points="1227.5,715.2 1225.2,715.6 1225.2,716.8 1227.5,716.4" fill="#ffffff" />
<polygon points="1227.5,716.4 1225.2,716.8 1225.2,733.5 1227.5,733.2" fill="#b3b6bb" />
<polygon points="1221.5,716.2 1219.1,716.6 1219.1,717.9 1221.5,717.5" fill="#ffffff" />
<polygon points="1221.5,717.5 1219.1,717.9 1219.1,734.4 1221.5,734.2" fill="#b3b6bb" />
<polygon points="1215.4,717.3 1213.1,717.7 1213.1,719.0 1215.4,718.5" fill="#ffffff" />
<polygon points="1215.4,718.5 1213.1,719.0 1213.1,735.3 1215.4,735.1" fill="#b3b6bb" />
<polygon points="1209.4,718.3 1207.0,718.8 1207.0,720.0 1209.4,719.6" fill="#ffffff" />
<polygon points="1209.4,719.6 1207.0,720.0 1207.0,736.2 1209.4,736.0" fill="#b3b6bb" />
<polygon points="1203.3,719.4 1201.0,719.8 1201.0,721.1 1203.3,720.7" fill="#ffffff" />
<polygon points="1203.3,720.7 1201.0,721.1 1201.0,737.2 1203.3,736.9" fill="#b3b6bb" />
<polygon points="1197.3,720.5 1194.9,720.9 1194.9,722.1 1197.3,721.7" fill="#ffffff" />
<polygon points="1197.3,721.7 1194.9,722.1 1194.9,738.1 1197.3,737.8" fill="#b3b6bb" />
<polygon points="1191.2,721.5 1188.9,721.9 1188.9,723.2 1191.2,722.8" fill="#ffffff" />
<polygon points="1191.2,722.8 1188.9,723.2 1188.9,739.0 1191.2,738.7" fill="#b3b6bb" />
<polygon points="1185.2,722.6 1182.8,723.0 1182.8,724.3 1185.2,723.9" fill="#ffffff" />
<polygon points="1185.2,723.9 1182.8,724.3 1182.8,739.9 1185.2,739.7" fill="#b3b6bb" />
<polygon points="1179.1,723.7 1176.8,724.1 1176.8,725.3 1179.1,724.9" fill="#ffffff" />
<polygon points="1179.1,724.9 1176.8,725.3 1176.8,740.8 1179.1,740.6" fill="#b3b6bb" />
<polygon points="1173.1,724.7 1170.7,725.1 1170.7,726.4 1173.1,726.0" fill="#ffffff" />
<polygon points="1173.1,726.0 1170.7,726.4 1170.7,741.8 1173.1,741.5" fill="#b3b6bb" />
<polygon points="1167.0,725.8 1164.7,726.2 1164.7,727.5 1167.0,727.0" fill="#ffffff" />
<polygon points="1167.0,727.0 1164.7,727.5 1164.7,742.7 1167.0,742.4" fill="#b3b6bb" />
<polygon points="1161.0,726.8 1158.6,727.3 1158.6,728.5 1161.0,728.1" fill="#ffffff" />
<polygon points="1161.0,728.1 1158.6,728.5 1158.6,743.6 1161.0,743.3" fill="#b3b6bb" />
<polygon points="1154.9,727.9 1152.6,728.3 1152.6,729.6 1154.9,729.2" fill="#ffffff" />
<polygon points="1154.9,729.2 1152.6,729.6 1152.6,744.5 1154.9,744.2" fill="#b3b6bb" />
<polygon points="1148.9,729.0 1146.5,729.4 1146.5,730.7 1148.9,730.2" fill="#ffffff" />
<polygon points="1148.9,730.2 1146.5,730.7 1146.5,745.4 1148.9,745.2" fill="#b3b6bb" />
<polygon points="1142.8,730.0 1140.5,730.5 1140.5,731.7 1142.8,731.3" fill="#ffffff" />
<polygon points="1142.8,731.3 1140.5,731.7 1140.5,746.3 1142.8,746.1" fill="#b3b6bb" />
<polygon points="1239.8,745.3 1237.5,745.7 1237.5,760.1 1239.8,759.8" fill="#b6b9be" />
<polygon points="1233.6,746.3 1231.3,746.6 1231.3,761.1 1233.6,760.8" fill="#b6b9be" />
<polygon points="1227.4,747.3 1225.1,747.6 1225.1,762.1 1227.4,761.7" fill="#b6b9be" />
<polygon points="1221.1,748.2 1218.9,748.6 1218.9,763.0 1221.1,762.7" fill="#b6b9be" />
<polygon points="1214.9,749.2 1212.7,749.5 1212.7,764.0 1214.9,763.7" fill="#b6b9be" />
<polygon points="1208.7,750.2 1206.4,750.5 1206.4,765.0 1208.7,764.6" fill="#b6b9be" />
<polygon points="1202.5,751.1 1200.2,751.5 1200.2,765.9 1202.5,765.6" fill="#b6b9be" />
<polygon points="1196.3,752.1 1194.0,752.5 1194.0,766.9 1196.3,766.6" fill="#b6b9be" />
<polygon points="1190.0,753.1 1187.8,753.4 1187.8,767.9 1190.0,767.5" fill="#b6b9be" />
<polygon points="1183.8,754.1 1181.6,754.4 1181.6,768.8 1183.8,768.5" fill="#b6b9be" />
<polygon points="1177.6,755.0 1175.3,755.4 1175.3,769.8 1177.6,769.5" fill="#b6b9be" />
<polygon points="1171.4,756.0 1169.1,756.3 1169.1,770.8 1171.4,770.4" fill="#b6b9be" />
<polygon points="1165.2,757.0 1162.9,757.3 1162.9,771.7 1165.2,771.4" fill="#b6b9be" />
<polygon points="1159.0,757.9 1156.7,758.3 1156.7,772.7 1159.0,772.4" fill="#b6b9be" />
<polygon points="1152.7,758.9 1150.5,759.2 1150.5,773.7 1152.7,773.3" fill="#b6b9be" />
<polygon points="1146.5,759.9 1144.2,760.2 1144.2,774.7 1146.5,774.3" fill="#b6b9be" />
<polyline points="1244.0,744.7 1141.5,760.6" fill="none" stroke="#f2f2f3" stroke-width="1.0"/>
<polyline points="1219.8,743.7 1184.7,749.1" fill="none" stroke="#868b91" stroke-width="5.0" stroke-linecap="round"/>
</g>
<polygon points="893.1,714.6 922.3,701.4 943.8,713.5 942.0,741.4 911.5,755.8" fill="url(#gPipe)" />
<ellipse cx="902.3" cy="735.2" rx="22.4" ry="10.6" transform="rotate(65.5 902.3 735.2)" fill="#3c3c3c"/>
<ellipse cx="902.3" cy="735.2" rx="22.4" ry="10.6" transform="rotate(65.5 902.3 735.2)" fill="none" stroke="#555" stroke-width="0.6"/>
<ellipse cx="903.7" cy="735.6" rx="19.6" ry="8.0" transform="rotate(65.5 903.7 735.6)" fill="#303030"/>
<path d="M922.0,689.9 L937.8,678.1 C945.7,671.5 951.6,666.3 958.8,665.6 C966.7,665.6 971.9,670.9 982.4,672.8 C992.9,674.4 1000.8,669.5 1009.3,666.3 L1055.9,678.1 L1060.5,684.0 C1062.5,689.9 1060.5,695.1 1056.6,698.4 L1031.0,713.5 C1024.4,716.8 1017.9,718.1 1011.3,716.8 C1002.1,714.2 995.5,709.6 987.7,711.6 C977.2,714.8 969.3,724.0 961.4,729.3 L949.6,738.7 L948.5,740.8 L945.0,742.2 L941.4,741.4 Z" fill="#2c2c2c"/>
<path d="M922.0,689.9 L937.8,678.1 C945.7,671.5 951.6,666.3 958.8,665.6 C966.7,665.6 971.9,670.9 982.4,672.8 C992.9,674.4 1000.8,669.5 1009.3,666.3 L1055.9,678.1 L1060.7,685.3 C1054.6,693.8 1040.2,702.8 1024.4,705.0 C1011.3,706.3 998.2,699.7 985.0,701.7 C971.9,704.3 958.8,705.7 948.3,709.6 L943.8,711.2 Z" fill="#474747"/>
<polygon points="953.5,667.0 961.7,665.9 974.5,670.5 994.2,700.7 985.0,701.7 979.8,702.5" fill="#3a3a3a" />
<polygon points="933.8,685.3 950.9,681.4 961.4,696.5 946.3,701.4" fill="#515151" />
<polygon points="990.3,673.1 1002.1,669.1 1009.3,666.9 1024.4,697.8 1017.9,704.6 1006.1,703.0" fill="#4d4d4d" />
<path d="M922.3,690.2 L943.8,711.2 C953.5,707.6 971.9,705.0 985.0,702.0" fill="none" stroke="#777" stroke-width="0.8"/>
<polygon points="922.0,689.9 943.8,711.2 942.0,741.4 922.3,701.7" fill="#363636" />
<path d="M1008.1,661.7 L1009.0,679.3 A24.9,12.8 0 0 0 1057.0,679.3 L1057.9,661.7 Z" fill="url(#gCyl)"/>
<ellipse cx="1033.0" cy="661.7" rx="24.9" ry="12.8" fill="#474747"/>
<path d="M1008.4,664.1 A24.9,12.8 0 0 0 1057.6,664.1" fill="none" stroke="#7a7a7a" stroke-width="0.9"/>
<ellipse cx="1033.0" cy="662.1" rx="21.4" ry="10.4" fill="#2a2a2a"/>
<path d="M1011.6,662.1 A21.4,10.4 0 0 0 1054.4,662.1 A21.4,6.5 0 0 1 1011.6,662.1 Z" fill="#383838"/>
<path class="ln" d="M88.5,132.8 H571.5 L947.7,93.1"/>
<path class="ln" d="M88.5,232.9 H571.5 L689.6,194.7"/>
<path class="ln" d="M88.5,365.8 H571.5 L701,271"/>
<path class="ln" d="M88.5,465.7 H571.5 L693,355"/>
<path class="ln" d="M88.5,560.1 H571.5 L717,467"/>
<path class="ln" d="M88.5,630 H571.5 L628.7,607.7"/>
<path class="ln" d="M91,766 H599.4 L887.4,737.9"/>
<path class="ln" d="M1288.7,140.4 L1358.5,161 H1840.5"/>
<path class="ln" d="M1105,185.5 L1358.5,234.9 H1840.5"/>
<path class="ln" d="M1016.6,374.4 L1358.5,457.5 H1840.5"/>
<path class="ln" d="M1257.8,685.2 L1358.5,702.5 H1840.5"/>
<text class="lbl" x="90.0" y="122.8" textLength="315.0" lengthAdjust="spacingAndGlyphs">Ключ для решетки, пластик</text>
<text class="lbl" x="89.0" y="221.3" textLength="418.2" lengthAdjust="spacingAndGlyphs">Фиксирующий кронштейн внешний</text>
<text class="lbl" x="89.6" y="319.7" textLength="352.4" lengthAdjust="spacingAndGlyphs">Фиксирующий кронштейн для</text>
<text class="lbl" x="89.4" y="354.2" textLength="479.2" lengthAdjust="spacingAndGlyphs">переворота решетки под вклейку плитки</text>
<text class="lbl" x="89.8" y="419.9" textLength="356.0" lengthAdjust="spacingAndGlyphs">Комплект регулировки высоты</text>
<text class="lbl" x="89.8" y="451.6" textLength="365.2" lengthAdjust="spacingAndGlyphs">решетки от 8 до 25 мм, пластик</text>
<text class="lbl" x="89.4" y="551.2" textLength="225.6" lengthAdjust="spacingAndGlyphs">Монтажная вставка</text>
<text class="lbl" x="90.0" y="617.7" textLength="465.8" lengthAdjust="spacingAndGlyphs">Желоб с гидроизоляцией, сталь AISI 304</text>
<text class="lbl" x="90.4" y="750.1" textLength="271.4" lengthAdjust="spacingAndGlyphs">Сифон горизонтальный</text>
<text class="lbl" x="1370.4" y="148.3" textLength="444.6" lengthAdjust="spacingAndGlyphs">Переворотная решетка, сталь AISI 304</text>
<text class="lbl" x="1371.8" y="221.4" textLength="448.2" lengthAdjust="spacingAndGlyphs">Фиксирующий кронштейн внутренний</text>
<text class="lbl" x="1371.2" y="445.6" textLength="285.6" lengthAdjust="spacingAndGlyphs">Сетка для волос, пластик</text>
<text class="lbl" x="1370.2" y="690.6" textLength="470.6" lengthAdjust="spacingAndGlyphs">Регулируемые опоры желоба, пенопласт</text>
<text class="note" x="97.2" y="870.3" textLength="1785.6" lengthAdjust="spacingAndGlyphs">Примечание: Производитель оставляем за собой право вносить изменения в конструкцию изделия, не снижая качества. Внешний вид изделия и деталей, их количество, могут отличаться от представленных на изображении</text>
</svg></body></html>
